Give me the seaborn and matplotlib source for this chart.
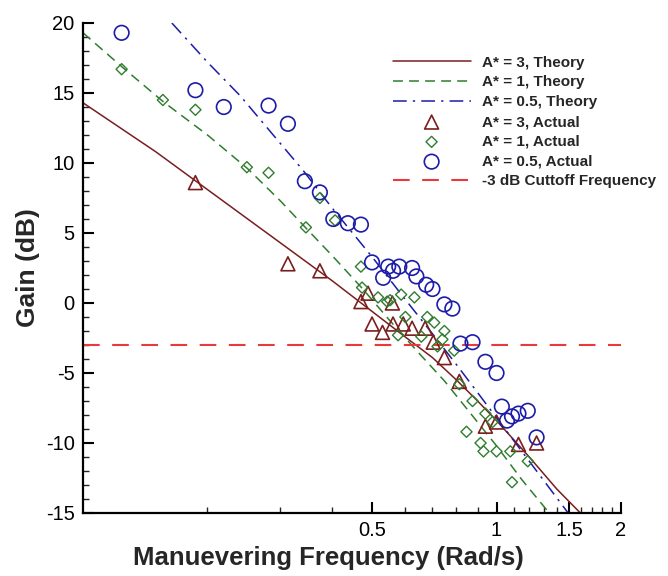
import numpy as np
import pandas as pd
import matplotlib
matplotlib.use("Agg")
import matplotlib.pyplot as plt
from matplotlib.ticker import FixedLocator, FixedFormatter, NullFormatter
import seaborn as sns

# ---------------- data ----------------
# Theory curves
th3_x = [0.1, 0.15, 0.2, 0.3, 0.4, 0.5, 0.6, 0.7, 0.8, 0.9, 1.0, 1.2, 1.4, 1.62]
th3_y = [14.3, 10.8, 8.1, 4.3, 1.6, -0.6, -2.4, -3.9, -5.5, -7.0, -8.4, -11.0, -13.3, -15.2]

th1_x = [0.1, 0.125, 0.156, 0.2, 0.25, 0.3, 0.35, 0.4, 0.475, 0.55, 0.65, 0.75, 0.85, 1.0, 1.15, 1.35]
th1_y = [19.3, 16.8, 14.4, 12.0, 9.6, 7.3, 5.2, 3.4, 1.0, -1.2, -3.6, -5.6, -7.6, -10.2, -12.6, -15.1]

th05_x = [0.164, 0.2, 0.24, 0.3, 0.34, 0.4, 0.5, 0.6, 0.7, 0.8, 0.9, 1.0, 1.2, 1.49]
th05_y = [20.0, 17.2, 14.8, 11.4, 9.5, 6.8, 3.3, 0.3, -2.2, -4.4, -6.4, -8.2, -11.3, -15.0]

# Measured points
act3_x = [0.187, 0.313, 0.374, 0.470, 0.489, 0.50, 0.53, 0.56, 0.562, 0.595, 0.625, 0.672,
          0.703, 0.748, 0.813, 0.94, 1.0, 1.13, 1.25]
act3_y = [8.6, 2.8, 2.3, 0.1, 0.7, -1.5, -2.1, 0.0, -1.5, -1.5, -1.8, -1.8,
          -2.8, -3.9, -5.6, -8.8, -8.5, -10.1, -10.0]

act1_x = [0.124, 0.156, 0.187, 0.249, 0.281, 0.346, 0.374, 0.407, 0.47, 0.473, 0.517, 0.544,
          0.553, 0.588, 0.633, 0.578, 0.602, 0.658, 0.68, 0.707, 0.748, 0.72, 0.74, 0.79,
          0.813, 0.875, 0.94, 0.978, 0.846, 0.915, 0.93, 1.0, 1.08, 1.19, 1.09]
act1_y = [16.7, 14.5, 13.8, 9.7, 9.3, 5.4, 7.5, 5.9, 2.6, 1.1, 0.4, 0.1,
          0.2, 0.6, 0.4, -2.3, -1.0, -2.4, -1.0, -1.4, -2.0, -3.1, -2.6, -3.4,
          -5.8, -7.0, -7.9, -8.5, -9.2, -10.0, -10.6, -10.6, -10.6, -11.3, -12.8]

act05_x = [0.124, 0.187, 0.219, 0.281, 0.313, 0.344, 0.374, 0.403, 0.437, 0.470, 0.50, 0.547,
           0.532, 0.562, 0.582, 0.625, 0.64, 0.676, 0.70, 0.748, 0.782, 0.818, 0.875, 0.94,
           1.0, 1.03, 1.06, 1.09, 1.13, 1.19, 1.25]
act05_y = [19.3, 15.2, 14.0, 14.1, 12.8, 8.7, 7.9, 6.0, 5.7, 5.6, 2.9, 2.6,
           1.8, 2.3, 2.6, 2.5, 1.9, 1.3, 1.0, -0.1, -0.4, -2.9, -2.8, -4.2,
           -5.0, -7.4, -8.4, -8.1, -7.9, -7.7, -9.6]

cutoff_db = -3

x_major = [0.5, 1, 1.5, 2]
x_major_labels = ["0.5", "1", "1.5", "2"]
x_minor = [0.2, 0.3, 0.4, 0.6, 0.7, 0.8, 0.9, 1.1, 1.2, 1.3, 1.4, 1.6, 1.7, 1.8, 1.9]
y_major = [-15, -10, -5, 0, 5, 10, 15, 20]

labels = ["A* = 3, Theory", "A* = 1, Theory", "A* = 0.5, Theory",
          "A* = 3, Actual", "A* = 1, Actual", "A* = 0.5, Actual",
          "-3 dB Cuttoff Frequency"]

# ---------------- style ----------------
sns.set_style("ticks")
plt.rcParams["font.family"] = ["Liberation Sans", "DejaVu Sans"]
plt.rcParams["axes.unicode_minus"] = False

c_brown = "#7a1e1e"
c_green = "#2f7d2f"
c_blue = "#1c1ca8"
c_red = "#e8393b"

fig = plt.figure(figsize=(6.68, 5.76), dpi=100)
ax = fig.add_axes([83 / 668, 1 - 513 / 576, (621 - 83) / 668, (513 - 23) / 576])

df3 = pd.DataFrame({"x": th3_x, "y": th3_y})
df1 = pd.DataFrame({"x": th1_x, "y": th1_y})
df05 = pd.DataFrame({"x": th05_x, "y": th05_y})

sns.lineplot(data=df3, x="x", y="y", ax=ax, color=c_brown, lw=1.1, label=labels[0], sort=False)
sns.lineplot(data=df1, x="x", y="y", ax=ax, color=c_green, lw=1.1, label=labels[1], sort=False)
ax.lines[-1].set_linestyle((0, (6.5, 4)))
sns.lineplot(data=df05, x="x", y="y", ax=ax, color=c_blue, lw=1.1, label=labels[2], sort=False)
ax.lines[-1].set_linestyle((0, (9, 4, 1.5, 4)))

sns.scatterplot(x=act3_x, y=act3_y, ax=ax, marker="^", s=100, facecolor="none",
                edgecolor=c_brown, linewidth=1.2, label=labels[3], zorder=3)
sns.scatterplot(x=act1_x, y=act1_y, ax=ax, marker="D", s=32, facecolor="none",
                edgecolor=c_green, linewidth=1.0, label=labels[4], zorder=3)
sns.scatterplot(x=act05_x, y=act05_y, ax=ax, marker="o", s=110, facecolor="none",
                edgecolor=c_blue, linewidth=1.2, label=labels[5], zorder=3)

ax.axhline(cutoff_db, color=c_red, lw=1.5, ls=(0, (8, 6)), label=labels[6])

ax.set_xscale("log")
ax.set_xlim(0.1, 2)
ax.set_ylim(-15, 20)

ax.xaxis.set_major_locator(FixedLocator(x_major))
ax.xaxis.set_major_formatter(FixedFormatter(x_major_labels))
ax.xaxis.set_minor_locator(FixedLocator(x_minor))
ax.xaxis.set_minor_formatter(NullFormatter())
ax.yaxis.set_major_locator(FixedLocator(y_major))
ax.yaxis.set_minor_locator(FixedLocator([v for v in range(-15, 21) if v % 5 != 0]))

ax.tick_params(axis="both", which="major", direction="in", length=8, width=1.5,
               labelsize=14.5, colors="black", pad=6)
ax.tick_params(axis="both", which="minor", direction="in", length=4.5, width=1.0)
ax.tick_params(axis="y", which="both", left=True, right=False)
ax.tick_params(axis="x", which="both", bottom=True, top=False)

for side in ["top", "right"]:
    ax.spines[side].set_visible(False)
for side in ["left", "bottom"]:
    ax.spines[side].set_linewidth(1.6)
    ax.spines[side].set_color("black")

ax.set_xlabel("Manuevering Frequency (Rad/s)", fontsize=18.5, fontweight="bold", labelpad=4)
ax.xaxis.set_label_coords((328 - 83) / 538, -0.068)
ax.set_ylabel("Gain (dB)", fontsize=19, fontweight="bold", labelpad=4)

handles, labs = ax.get_legend_handles_labels()
order = [labs.index(l) for l in labels]
leg = ax.legend([handles[i] for i in order], [labs[i] for i in order],
                loc="upper left", bbox_to_anchor=(385 / 668, 1 - 48 / 576),
                bbox_transform=fig.transFigure, frameon=False, borderpad=0,
                handlelength=5.1, handletextpad=0.75, labelspacing=0.38,
                prop={"weight": "bold", "size": 11})

fig.savefig("out.png", dpi=100)
